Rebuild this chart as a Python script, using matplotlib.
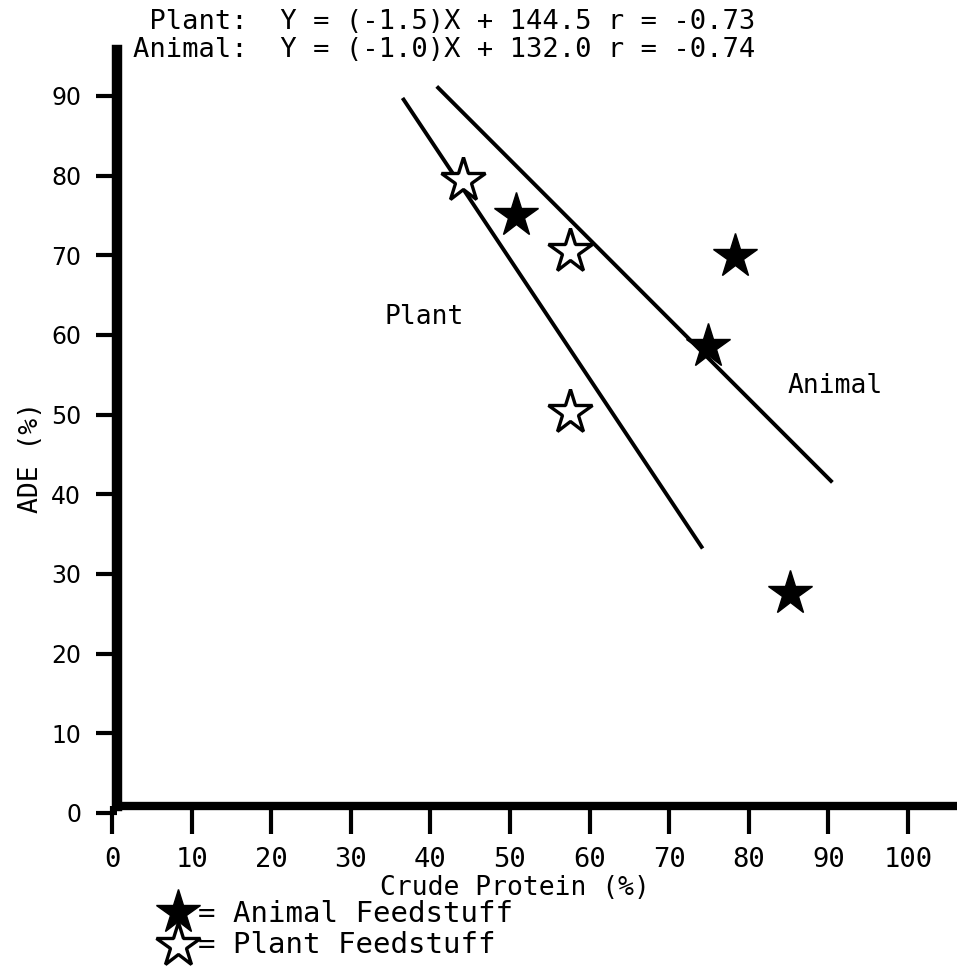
import matplotlib
matplotlib.use("Agg")
import matplotlib.pyplot as plt
import numpy as np

# ---- data ----
plant_x = [44.1, 57.5, 57.5]
plant_y = [79.4, 70.6, 50.3]
animal_x = [50.8, 78.3, 74.9, 85.2]
animal_y = [75.0, 69.9, 58.6, 27.6]

groups = ["Plant", "Animal"]
slopes = [-1.5, -1.0]
intercepts = [144.5, 132.0]
r_values = [-0.73, -0.74]
line_x_range = [(36.5, 74.2), (40.8, 90.5)]

x_ticks = [0, 10, 20, 30, 40, 50, 60, 70, 80, 90, 100]
y_ticks = [0, 10, 20, 30, 40, 50, 60, 70, 80, 90]

MONO = "DejaVu Sans Mono"
W, H = 957, 974
AX_L, AX_B = 112, 813          # pixel positions of data (0, 0)
AX_W = W - AX_L
AX_H = AX_B - 45

fig = plt.figure(figsize=(W / 100, H / 100), dpi=100)
ax = fig.add_axes([AX_L / W, (H - AX_B) / H, AX_W / W, AX_H / H])
xmax = AX_W / 7.96
ymax = AX_H / 7.967
ax.set_xlim(0, xmax)
ax.set_ylim(0, ymax)

for side in ["top", "right"]:
    ax.spines[side].set_visible(False)
ax.spines["left"].set_linewidth(7.5)
ax.spines["left"].set_position(("data", 0.65))
ax.spines["left"].set_bounds(0.85, ymax - 0.6)
ax.spines["bottom"].set_linewidth(6)
ax.spines["bottom"].set_position(("data", 0.85))
ax.spines["bottom"].set_bounds(0.65, xmax)
ax.spines["bottom"].set_capstyle("projecting")

ax.set_xticks(x_ticks)
ax.set_yticks(y_ticks)
ax.set_xticklabels([str(t) for t in x_ticks], fontfamily=MONO, fontsize=19.5)
ax.set_yticklabels([str(t) for t in y_ticks], fontfamily="DejaVu Sans", fontsize=17)
ax.tick_params(axis="x", direction="out", length=20, width=3, pad=9)
ax.tick_params(axis="y", direction="out", length=15, width=3, pad=11)

# regression lines
for g, m, b, (x0, x1) in zip(groups, slopes, intercepts, line_x_range):
    xs = np.array([x0, x1])
    ax.plot(xs, m * xs + b, color="black", lw=2.8, solid_capstyle="butt")

ax.plot(plant_x, plant_y, linestyle="none", marker="*", markersize=33,
        markerfacecolor="white", markeredgecolor="black", markeredgewidth=2.4)
ax.plot(animal_x, animal_y, linestyle="none", marker="*", markersize=33,
        markerfacecolor="black", markeredgecolor="black")

ax.text(39.2, 62.3, "Plant", fontfamily=MONO, fontsize=19, ha="center", va="center")
ax.text(90.8, 53.6, "Animal", fontfamily=MONO, fontsize=19, ha="center", va="center")

ax.set_xlabel("Crude Protein (%)", fontfamily=MONO, fontsize=19)
ax.xaxis.set_label_coords((515 - AX_L) / AX_W, -(875 - AX_B) / AX_H)
ax.set_ylabel("ADE (%)", fontfamily=MONO, fontsize=19)
ax.yaxis.set_label_coords(-(AX_L - 44) / AX_W, (AX_B - 457) / AX_H)

# equations
lines = []
for g, m, b, r in zip(groups, slopes, intercepts, r_values):
    lines.append(f"{(g + ':'):>7}  Y = ({m:.1f})X + {b:.1f} r = {r:.2f}")
fig.text(133 / W, 1 - 22 / H, lines[0], fontfamily=MONO, fontsize=19.5,
         ha="left", va="center")
fig.text(133 / W, 1 - 50 / H, lines[1], fontfamily=MONO, fontsize=19.5,
         ha="left", va="center")

# legend
fig.lines.append(plt.Line2D([178 / W], [1 - 912 / H], transform=fig.transFigure,
                            marker="*", markersize=33, color="black", linestyle="none"))
fig.lines.append(plt.Line2D([178 / W], [1 - 945 / H], transform=fig.transFigure,
                            marker="*", markersize=33, markerfacecolor="white",
                            markeredgecolor="black", markeredgewidth=2.4, linestyle="none"))
fig.text(198 / W, 1 - 914 / H, "= Animal Feedstuff", fontfamily=MONO, fontsize=21,
         ha="left", va="center")
fig.text(198 / W, 1 - 945 / H, "= Plant Feedstuff", fontfamily=MONO, fontsize=21,
         ha="left", va="center")

fig.savefig("out.png", dpi=100)
